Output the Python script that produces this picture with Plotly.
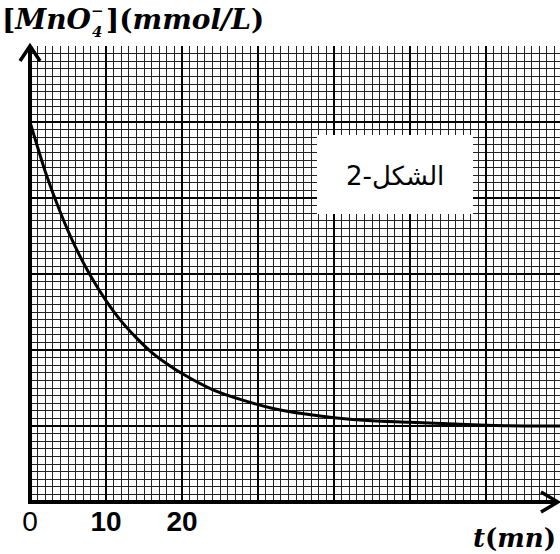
import plotly.graph_objects as go

# ---- data ----
t_min = [0, 2, 4, 6, 8, 10, 12, 14, 16, 18, 20, 24, 28, 32, 36, 40, 45, 50, 55, 60, 65, 70]
conc = [5.0, 4.35, 3.81, 3.35, 2.97, 2.65, 2.38, 2.16, 1.97, 1.82, 1.69, 1.48, 1.34, 1.23,
        1.16, 1.11, 1.07, 1.05, 1.03, 1.01, 1.00, 1.00]
x_tickvals = [0, 10, 20, 30, 40, 50, 60]
x_ticktext = ["0", "<b>10</b>", "<b>20</b>", "", "", "", ""]

W, H = 560, 554
L, R, T, B = 30, 0, 46, 52
PW, PH = W - L - R, H - T - B
XMAX = PW / 7.6
YMAX = 6


def px(x):
    return (x - L) / PW


def py(y):
    return (H - B - y) / PH


fig = go.Figure()
fig.add_trace(go.Scatter(x=t_min, y=conc, mode="lines",
                         line=dict(color="black", width=3, shape="spline", smoothing=0.6),
                         hoverinfo="skip", showlegend=False, cliponaxis=False))

shapes = []
# white label box
shapes.append(dict(type="rect", xref="paper", yref="paper", x0=px(317), x1=px(473),
                   y0=py(214), y1=py(135), fillcolor="white", line=dict(width=0), layer="above"))
# axes lines
shapes.append(dict(type="line", xref="paper", yref="paper", x0=px(30), x1=px(30),
                   y0=py(504), y1=py(47), line=dict(color="black", width=4), layer="above"))
shapes.append(dict(type="line", xref="paper", yref="paper", x0=px(28), x1=px(558),
                   y0=py(502), y1=py(502), line=dict(color="black", width=4), layer="above"))
# arrow heads
shapes.append(dict(type="path", xref="paper", yref="paper",
                   path=f"M {px(20)} {py(61)} L {px(30)} {py(46)} L {px(40)} {py(61)}",
                   line=dict(color="black", width=3.5), layer="above"))
shapes.append(dict(type="path", xref="paper", yref="paper",
                   path=f"M {px(541)} {py(492)} L {px(558)} {py(502)} L {px(541)} {py(512)}",
                   line=dict(color="black", width=3.5), layer="above"))

serif = "DejaVu Serif"
ann = []
ann.append(dict(text="<b>[</b><b><i>MnO</i></b>", xref="paper", yref="paper", x=px(1), y=py(20),
                xanchor="left", yanchor="middle", showarrow=False, borderpad=0,
                font=dict(family=serif, size=28, color="black")))
ann.append(dict(text="<b><i>4</i></b>", xref="paper", yref="paper", x=px(97), y=py(32),
                xanchor="center", yanchor="middle", showarrow=False, borderpad=0,
                font=dict(family=serif, size=15, color="black")))
ann.append(dict(text="<b>−</b>", xref="paper", yref="paper", x=px(97), y=py(11),
                xanchor="center", yanchor="middle", showarrow=False, borderpad=0,
                font=dict(family=serif, size=15, color="black")))
ann.append(dict(text="<b>](</b><b><i>mmol/L</i></b><b>)</b>", xref="paper", yref="paper",
                x=px(105), y=py(20),
                xanchor="left", yanchor="middle", showarrow=False, borderpad=0,
                font=dict(family=serif, size=28, color="black")))
ann.append(dict(text="<b><i>t</i></b><b>(</b><b><i>mn</i></b><b>)</b>", xref="paper", yref="paper",
                x=px(557), y=py(538),
                xanchor="right", yanchor="middle", showarrow=False, borderpad=0,
                font=dict(family=serif, size=26, color="black")))
ann.append(dict(text="الشكل-2", xref="paper", yref="paper", x=px(395), y=py(176),
                xanchor="center", yanchor="middle", showarrow=False,
                font=dict(family="DejaVu Sans", size=26, color="black")))

fig.update_layout(
    width=W, height=H, margin=dict(l=L, r=R, t=T, b=B, pad=0),
    paper_bgcolor="white", plot_bgcolor="white",
    shapes=shapes, annotations=ann, showlegend=False,
    xaxis=dict(range=[0, XMAX], tickmode="array", tickvals=x_tickvals, ticktext=x_ticktext,
               showgrid=True, gridcolor="black", gridwidth=1.5, zeroline=False,
               showline=False, ticks="", tickfont=dict(family="Liberation Sans", size=28, color="black"),
               minor=dict(tickmode="linear", tick0=0, dtick=1, showgrid=True, gridcolor="#222", gridwidth=1)),
    yaxis=dict(range=[0, YMAX], tickmode="linear", tick0=0, dtick=1, showticklabels=False,
               showgrid=True, gridcolor="black", gridwidth=1.5, zeroline=False, showline=False, ticks="",
               minor=dict(tickmode="linear", tick0=0, dtick=0.1, showgrid=True, gridcolor="#222", gridwidth=1)),
)

fig.write_html("out.html", config={"displayModeBar": False},
               post_script="document.body.style.margin='0';document.body.style.overflow='hidden';")
